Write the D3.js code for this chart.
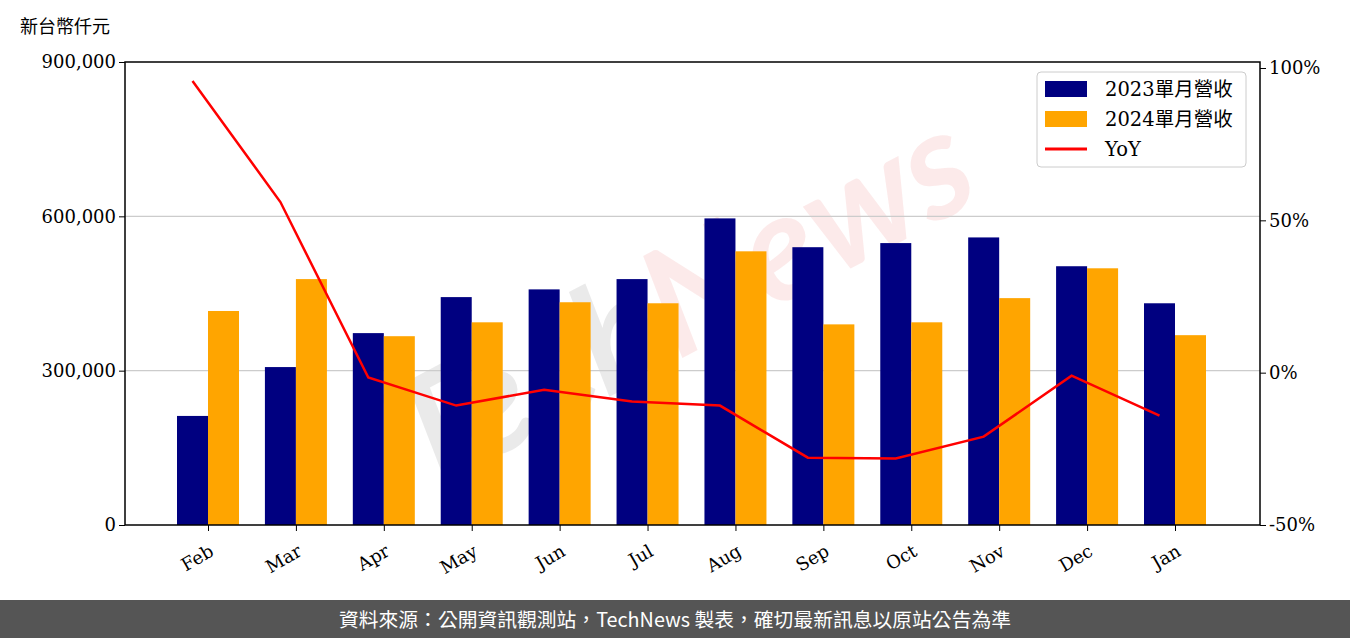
<!DOCTYPE html>
<html><head><meta charset="utf-8">
<script src="https://cdn.jsdelivr.net/npm/d3@7"></script>
<style>body{margin:0;background:#fff}svg{display:block}</style>
</head><body>
<svg id="c" width="1350" height="638"></svg>
<script>
const months = ["Feb","Mar","Apr","May","Jun","Jul","Aug","Sep","Oct","Nov","Dec","Jan"];
const rev2023 = [212000,307000,373000,443000,458000,478000,596000,540000,548000,559000,503000,431000];
const rev2024 = [416000,478000,367000,394000,433000,431000,532000,390000,394000,441000,499000,369000];
const yoy = [95.7,56,-1.6,-10.8,-5.6,-9.5,-10.8,-27.9,-28.2,-21,-1,-14.1];
const leftTicks = [0,300000,600000,900000];
const rightTicks = [-50,0,50,100];

const svg = d3.select("#c");
const L = 125, R = 1260, T = 62, B = 525;
const serif = "DejaVu Serif, serif", cjk = "Noto Sans CJK TC, sans-serif";

const x = d3.scalePoint().domain(months).range([208, 1175]);
const y = d3.scaleLinear().domain([0,900000]).range([B,T]);
const y2 = d3.scaleLinear().domain([-50,100]).range([B,68]);
const bw = 31;

// watermark
const wm = svg.append("text").attr("transform","rotate(-28,690,320)")
  .attr("x",690).attr("y",350).attr("text-anchor","middle")
  .attr("font-family","Lato, sans-serif").attr("font-weight","bold").attr("font-style","italic")
  .attr("font-size",150);
wm.append("tspan").attr("fill","#bbb").attr("fill-opacity",0.3).text("Tech");
wm.append("tspan").attr("fill","#e88").attr("fill-opacity",0.18).text("News");

// grid
svg.append("g").selectAll("line").data(leftTicks.slice(1,3)).join("line")
  .attr("x1",L).attr("x2",R).attr("y1",d=>y(d)).attr("y2",d=>y(d))
  .attr("stroke","#ccc").attr("stroke-width",1.2);

svg.append("g").selectAll("rect").data(rev2023).join("rect")
  .attr("x",(d,i)=>x(months[i])-bw).attr("width",bw)
  .attr("y",d=>y(d)).attr("height",d=>B-y(d)).attr("fill","#000080");
svg.append("g").selectAll("rect").data(rev2024).join("rect")
  .attr("x",(d,i)=>x(months[i])).attr("width",bw)
  .attr("y",d=>y(d)).attr("height",d=>B-y(d)).attr("fill","#ffa500");

svg.append("path").datum(yoy)
  .attr("d",d3.line().x((d,i)=>x(months[i])-bw/2).y(d=>y2(d)))
  .attr("fill","none").attr("stroke","#ff0000").attr("stroke-width",2.5);

// frame
svg.append("rect").attr("x",L).attr("y",T).attr("width",R-L).attr("height",B-T)
  .attr("fill","none").attr("stroke","#000").attr("stroke-width",1.5);

const ax = svg.append("g").attr("transform",`translate(${L},0)`)
  .call(d3.axisLeft(y).tickValues(leftTicks).tickFormat(d3.format(",")).tickSizeOuter(0).tickSize(6));
ax.select(".domain").remove();
ax.selectAll("text").attr("font-family",serif).attr("font-size",18).attr("fill","#000");

const ar = svg.append("g").attr("transform",`translate(${R},0)`)
  .call(d3.axisRight(y2).tickValues(rightTicks).tickFormat(d=>d+"%").tickSizeOuter(0).tickSize(6));
ar.select(".domain").remove();
ar.selectAll("text").attr("font-family",serif).attr("font-size",18).attr("fill","#000");

const axb = svg.append("g").attr("transform",`translate(0,${B})`)
  .call(d3.axisBottom(x).tickSizeOuter(0).tickSize(6));
axb.select(".domain").remove();
axb.selectAll("text").attr("font-family",serif).attr("font-size",18).attr("fill","#000")
  .attr("text-anchor","end").attr("dy",0).attr("transform","translate(2,22) rotate(-30)");

svg.append("text").attr("x",20).attr("y",33).attr("font-family",cjk).attr("font-size",18).text("新台幣仟元");

// legend
const lg = svg.append("g").attr("transform","translate(1037,72)");
lg.append("rect").attr("width",209).attr("height",95).attr("rx",4).attr("fill","#fff")
  .attr("fill-opacity",0.8).attr("stroke","#ccc");
const items = [["2023單月營收","#000080","bar"],["2024單月營收","#ffa500","bar"],["YoY","#ff0000","line"]];
items.forEach((it,i)=>{
  const cy = 17 + i*30;
  if(it[2]==="bar") lg.append("rect").attr("x",8).attr("y",cy-8).attr("width",42).attr("height",16).attr("fill",it[1]);
  else lg.append("line").attr("x1",8).attr("x2",50).attr("y1",cy).attr("y2",cy).attr("stroke",it[1]).attr("stroke-width",3);
  lg.append("text").attr("x",68).attr("y",cy+7).attr("font-family",serif+", "+cjk).attr("font-size",19.5).text(it[0]);
});

// footer
svg.append("rect").attr("x",0).attr("y",600).attr("width",1350).attr("height",38).attr("fill","#555");
svg.append("text").attr("x",675).attr("y",627).attr("text-anchor","middle").attr("fill","#fff")
  .attr("font-family",cjk).attr("font-size",19.8).text("資料來源：公開資訊觀測站，TechNews 製表，確切最新訊息以原站公告為準");
</script>
</body></html>
